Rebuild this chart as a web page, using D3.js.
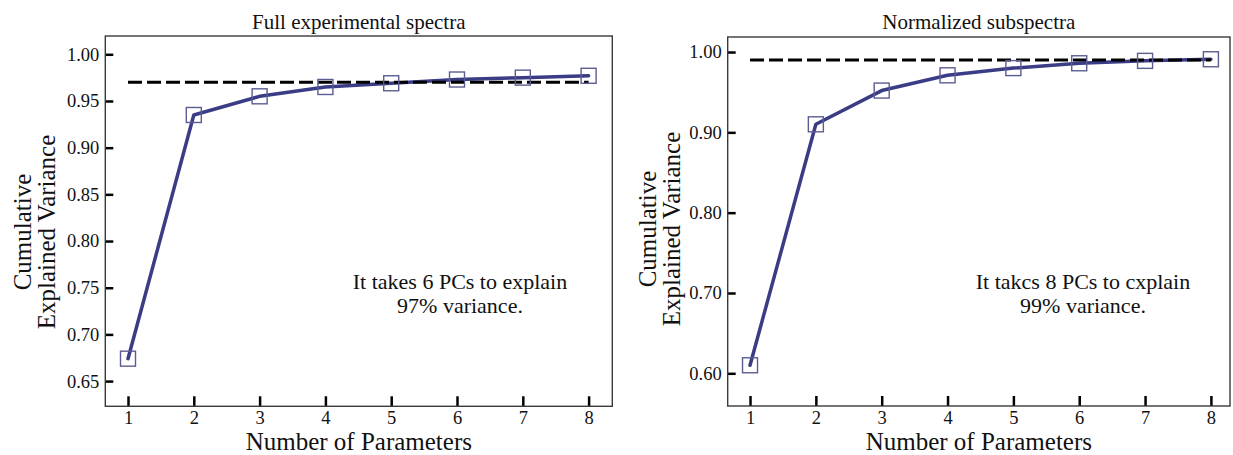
<!DOCTYPE html>
<html>
<head>
<meta charset="utf-8">
<script src="https://cdn.jsdelivr.net/npm/d3@7"></script>
<style>
  html, body { margin: 0; padding: 0; background: #fff; }
  svg { display: block; }
  text { font-family: "Liberation Serif", "Times New Roman", serif; fill: #111; }
</style>
</head>
<body>
<svg id="chart" width="1233" height="455"></svg>
<script>
// ---- Data ----
const components = [1, 2, 3, 4, 5, 6, 7, 8];
const fullSpectraValues = [0.674, 0.935, 0.955, 0.965, 0.969, 0.973, 0.975, 0.977];
const normalizedValues = [0.610, 0.910, 0.952, 0.971, 0.980, 0.986, 0.989, 0.991];
const fullThreshold = 0.97;
const normThreshold = 0.99;
const fullYTicks = [0.65, 0.70, 0.75, 0.80, 0.85, 0.90, 0.95, 1.00];
const normYTicks = [0.60, 0.70, 0.80, 0.90, 1.00];
const xTicks = [1, 2, 3, 4, 5, 6, 7, 8];
const titles = ["Full experimental spectra", "Normalized subspectra"];
const notesFull = ["It takes 6 PCs to explain", "97% variance."];
const notesNorm = ["It takcs 8 PCs to cxplain", "99% variance."];
const xLabel = "Number of Parameters";
const yLabelLines = ["Cumulative", "Explained Variance"];

const svg = d3.select("#chart");
const lineColor = "#3a3c85";
const markerColor = "#5b5d92";

function panel(cfg) {
  const g = svg.append("g");
  const x = d3.scaleLinear().domain(cfg.xDomain).range([cfg.left, cfg.right]);
  const y = d3.scaleLinear().domain(cfg.yDomain).range([cfg.bottom, cfg.top]);

  // y axis ticks (inward)
  const yAxis = d3.axisLeft(y).tickValues(cfg.yTicks).tickFormat(d3.format(".2f"))
    .tickSizeInner(-8).tickSizeOuter(0).tickPadding(6);
  const ya = g.append("g").attr("transform", `translate(${cfg.left},0)`).call(yAxis);
  ya.select(".domain").remove();
  ya.selectAll(".tick line").attr("stroke", "#000").attr("stroke-width", 2.5);
  ya.selectAll(".tick text").attr("font-size", 18.5).attr("fill", "#111")
    .attr("font-family", '"Liberation Serif", "Times New Roman", serif');

  // x axis ticks (inward)
  const xAxis = d3.axisBottom(x).tickValues(cfg.xTicks).tickFormat(d3.format("d"))
    .tickSizeInner(-10).tickSizeOuter(0).tickPadding(6);
  const xa = g.append("g").attr("transform", `translate(0,${cfg.bottom})`).call(xAxis);
  xa.select(".domain").remove();
  xa.selectAll(".tick line").attr("stroke", "#000").attr("stroke-width", 2.5);
  xa.selectAll(".tick text").attr("font-size", 18.5).attr("fill", "#111")
    .attr("font-family", '"Liberation Serif", "Times New Roman", serif')
    .attr("dy", null).attr("y", 18);

  // frame
  g.append("rect")
    .attr("x", cfg.left).attr("y", cfg.top)
    .attr("width", cfg.right - cfg.left).attr("height", cfg.bottom - cfg.top)
    .attr("fill", "none").attr("stroke", "#3a3a3a").attr("stroke-width", 1.4);

  // series line
  const line = d3.line().x((d, i) => x(cfg.xs[i])).y(d => y(d));
  g.append("path").datum(cfg.values)
    .attr("d", line).attr("fill", "none")
    .attr("stroke", lineColor).attr("stroke-width", 3.5)
    .attr("stroke-linejoin", "round").attr("stroke-linecap", "round");

  // threshold dashed line
  g.append("line")
    .attr("x1", x(cfg.xs[0])).attr("x2", x(cfg.xs[cfg.xs.length - 1]))
    .attr("y1", y(cfg.threshold)).attr("y2", y(cfg.threshold))
    .attr("stroke", "#000").attr("stroke-width", 3)
    .attr("stroke-dasharray", "14,5");

  // markers
  const s = 15;
  g.selectAll("rect.mk").data(cfg.values).enter().append("rect")
    .attr("class", "mk")
    .attr("x", (d, i) => x(cfg.xs[i]) - s / 2)
    .attr("y", d => y(d) - s / 2)
    .attr("width", s).attr("height", s)
    .attr("fill", "none").attr("stroke", markerColor).attr("stroke-width", 1.4);

  // title
  g.append("text").attr("x", (cfg.left + cfg.right) / 2).attr("y", 29)
    .attr("text-anchor", "middle").attr("font-size", 21).text(cfg.title);

  // x label
  g.append("text").attr("x", (cfg.left + cfg.right) / 2).attr("y", 450)
    .attr("text-anchor", "middle").attr("font-size", 25).text(xLabel);

  // y label (two lines, rotated)
  const cy = cfg.yLabelCenter;
  yLabelLines.forEach((t, i) => {
    g.append("text")
      .attr("transform", `translate(${cfg.yLabelX[i]},${cy}) rotate(-90)`)
      .attr("text-anchor", "middle").attr("font-size", 25).text(t);
  });

  // annotation
  cfg.notes.forEach((t, i) => {
    g.append("text").attr("x", cfg.noteX).attr("y", 289 + i * 24)
      .attr("text-anchor", "middle").attr("font-size", 22).text(t);
  });
}

panel({
  left: 105.3, right: 612.3, top: 36, bottom: 406.3,
  xDomain: [0.655, 8.36], yDomain: [0.623, 1.0196],
  xs: components, values: fullSpectraValues, threshold: fullThreshold,
  yTicks: fullYTicks, xTicks: xTicks, title: titles[0],
  notes: notesFull, noteX: 460, yLabelX: [31, 55], yLabelCenter: 232
});

panel({
  left: 727.7, right: 1230, top: 37, bottom: 406,
  xDomain: [0.661, 8.29], yDomain: [0.5593, 1.0187],
  xs: components, values: normalizedValues, threshold: normThreshold,
  yTicks: normYTicks, xTicks: xTicks, title: titles[1],
  notes: notesNorm, noteX: 1083, yLabelX: [656, 680], yLabelCenter: 229
});
</script>
</body>
</html>
